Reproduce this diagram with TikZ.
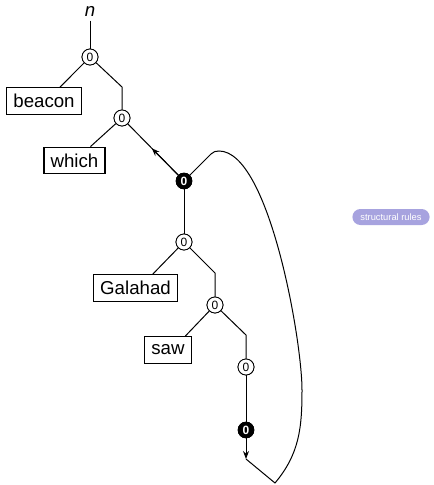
\documentclass[tikz,border=0pt]{standalone}
\usepackage{fontspec}
\setmainfont{Liberation Sans}
\usetikzlibrary{arrows.meta,calc}
\definecolor{badge}{RGB}{167,163,223}
\tikzset{
  word/.style={draw, line width=0.9pt, fill=white, font=\fontsize{14}{14}\selectfont, inner xsep=5pt, minimum height=20pt, inner ysep=0pt},
  zc/.style={circle, draw, line width=0.6pt, fill=white, minimum size=12pt, inner sep=0pt, font=\fontsize{9}{9}\selectfont},
  bc/.style={circle, draw, fill=black, text=white, minimum size=12pt, inner sep=0pt, font=\fontsize{9}{9}\selectfont\bfseries},
  ln/.style={line width=0.75pt},
  tip/.style={-{Stealth[length=6pt,width=4.5pt]}}
}
\begin{document}
\begin{tikzpicture}[x=0.75pt,y=0.75pt]
\useasboundingbox (0,0) rectangle (434,-485);
% nodes
\node[font=\fontsize{14}{14}\selectfont\itshape] (n) at (90,-11) {n};
\node[zc] (c1) at (90,-57) {0};
\node[word] (beacon) at (44,-101) {beacon};
\node[zc] (c2) at (122,-118) {0};
\node[word] (which) at (74.5,-160.5) {which};
\node[bc] (b1) at (184,-181) {0};
\node[zc] (c3) at (184,-242) {0};
\node[word] (galahad) at (135.5,-288) {Galahad};
\node[zc] (c4) at (215,-305) {0};
\node[word] (saw) at (168,-350) {saw};
\node[zc] (c5) at (246,-367) {0};
\node[bc] (b2) at (246,-430) {0};
\coordinate (turn) at (246,-459);
\coordinate (bot) at (275,-483);
\node[fill=badge, text=white, rounded corners=6pt, font=\fontsize{7}{7}\selectfont, minimum height=12pt, inner xsep=6pt, inner ysep=0pt] (sr) at (391,-217) {structural rules};
% edges
\draw[ln] (n.south) -- (c1);
\draw[ln] (c1) -- ([xshift=12pt]beacon.north);
\draw[ln] (c1) -- ($(c2)+(0,31)$) -- (c2);
\draw[ln] (c2) -- ([xshift=12pt]which.north);
\draw[ln] (b1) -- (c2);
\draw[ln,tip] (b1) -- ($(b1)!0.52!(c2)$);
\draw[ln] (b1) -- (c3);
\draw[ln] (c3) -- ([xshift=13pt]galahad.north);
\draw[ln] (c3) -- ($(c4)+(0,32)$) -- (c4);
\draw[ln] (c4) -- ([xshift=13pt]saw.north);
\draw[ln] (c4) -- ($(c5)+(0,32)$) -- (c5);
\draw[ln] (c5) -- (b2);
\draw[ln,tip] (b2) -- (turn);
\draw[ln] (b1) -- (211,-154) to[out=45,in=180] (219,-151)
  .. controls (269,-151) and (302,-340) .. (302,-390)
  to[out=-90,in=50] (bot) -- (turn);
% redraw nodes on top
\node[zc] at (c1) {0};
\node[zc] at (c2) {0};
\node[bc] at (b1) {0};
\node[zc] at (c3) {0};
\node[zc] at (c4) {0};
\node[zc] at (c5) {0};
\node[bc] at (b2) {0};
\end{tikzpicture}
\end{document}
